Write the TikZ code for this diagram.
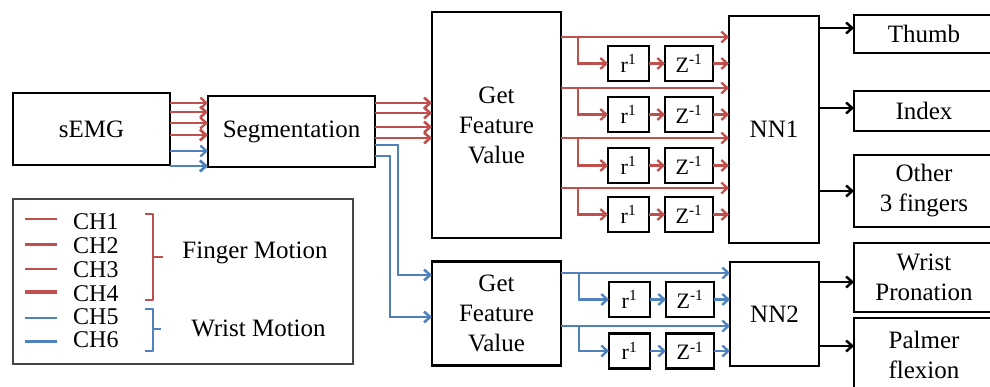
\documentclass[tikz,border=0pt]{standalone}
\usepackage{fontspec}
\setmainfont{Liberation Serif}
\usetikzlibrary{arrows.meta}
\definecolor{cred}{RGB}{192,80,77}
\definecolor{cblue}{RGB}{79,129,189}
\definecolor{cgray}{RGB}{70,70,70}
\tikzset{
  box/.style={draw=black, line width=2.8pt, inner sep=0pt, outer sep=0pt, align=center,
    font=\fontsize{25}{30}\selectfont},
  small/.style={box, minimum width=41pt, minimum height=35pt, font=\fontsize{22}{24}\selectfont},
  zbox/.style={box, minimum width=48pt, minimum height=35pt, font=\fontsize{22}{24}\selectfont},
  arr/.style={line width=2.3pt, -{Straight Barb[length=6pt,width=11pt]}},
  rarr/.style={arr, draw=cred},
  barr/.style={arr, draw=cblue},
  karr/.style={arr, draw=black, line width=2.5pt},
  lbl/.style={inner sep=0pt, font=\fontsize{24}{28}\selectfont},
  brace/.style={line width=2.6pt, line join=round},
}
\begin{document}
\begin{tikzpicture}[x=1pt,y=-1pt]
\useasboundingbox (0,0) rectangle (990,386);
\clip (0,0) rectangle (990,386);
\fill[white] (0,0) rectangle (990,386);

% main boxes
\node[box, minimum width=157pt, minimum height=72pt] (semg) at (91.5,129) {sEMG};
\node[box, minimum width=167pt, minimum height=71pt] (seg) at (291.5,131.5) {Segmentation};
\node[box, minimum width=129pt, minimum height=226pt] (gfv1) at (496.5,125) {Get\\Feature\\Value};
\node[box, minimum width=129pt, minimum height=104pt] (gfv2) at (496.5,313.5) {Get\\Feature\\Value};
\node[box, minimum width=90pt, minimum height=227pt] (nn1) at (774,129.5) {NN1};
\node[box, minimum width=89pt, minimum height=104pt] (nn2) at (774.5,314) {NN2};

% delay boxes
\foreach \i/\y in {1/63.5,2/114.5,3/165.5,4/214.5}{
  \node[small] (rA\i) at (628.5,\y) {r\textsuperscript{1}};
  \node[zbox] (zA\i) at (689,\y) {Z\textsuperscript{-1}};
}
\foreach \i/\y in {1/299.5,2/351}{
  \node[small] (rB\i) at (629.5,\y) {r\textsuperscript{1}};
  \node[zbox] (zB\i) at (690,\y) {Z\textsuperscript{-1}};
}

% output boxes
\node[box, minimum width=140pt, minimum height=38pt] (thumb) at (924,34) {Thumb};
\node[box, minimum width=140pt, minimum height=40pt] (index) at (924,111) {Index};
\node[box, minimum width=140pt, minimum height=72pt] (other) at (924,191) {Other\\3 fingers};
\node[box, minimum width=140pt, minimum height=69pt] (wrist) at (924,277.5) {Wrist\\Pronation};
\node[box, minimum width=140pt, minimum height=74pt] (palm) at (924,355) {Palmer\\flexion};

% sEMG -> Segmentation
\foreach \y/\w in {103/2.2,112/2.6,123/2.4,135/2.8}{
  \draw[rarr, line width=\w pt] (semg.east |- 0,\y) -- (seg.west |- 0,\y);
}
\foreach \y/\w in {151/2.2,166/2.8}{
  \draw[barr, line width=\w pt] (semg.east |- 0,\y) -- (seg.west |- 0,\y);
}

% Segmentation -> Get Feature Value 1
\foreach \y in {103,113,127,138}{
  \draw[rarr, line width=2.6pt] (seg.east |- 0,\y) -- (gfv1.west |- 0,\y);
}
% Segmentation -> Get Feature Value 2
\coordinate (c1) at (398,145);
\coordinate (c2) at (390,156);
\draw[barr, line width=2.6pt] (seg.east |- c1) -- (c1) |- (gfv2.west |- 0,275);
\draw[barr, line width=2.6pt] (seg.east |- c2) -- (c2) |- (gfv2.west |- 0,317);

% GFV1 -> NN1 with delay branches
\foreach \i/\y in {1/37,2/88,3/138,4/188}{
  \draw[rarr] (gfv1.east |- 0,\y) -- (nn1.west |- 0,\y);
  \coordinate (bA\i) at (578,\y);
  \draw[rarr] (bA\i) |- (rA\i.west);
  \draw[rarr] (rA\i) -- (zA\i);
  \draw[rarr] (zA\i) -- (nn1.west |- zA\i);
}
% GFV2 -> NN2 with delay branches
\foreach \i/\y in {1/273,2/326}{
  \draw[barr] (gfv2.east |- 0,\y) -- (nn2.west |- 0,\y);
  \coordinate (bB\i) at (579,\y);
  \draw[barr] (bB\i) |- (rB\i.west);
  \draw[barr] (rB\i) -- (zB\i);
  \draw[barr] (zB\i) -- (nn2.west |- zB\i);
}

% NN outputs
\draw[karr] (nn1.east |- 0,28) -- (thumb.west |- 0,28);
\draw[karr] (nn1.east |- 0,108) -- (index.west |- 0,108);
\draw[karr] (nn1.east |- 0,191) -- (other.west |- 0,191);
\draw[karr] (nn2.east |- 0,282) -- (wrist.west |- 0,282);
\draw[karr] (nn2.east |- 0,346) -- (palm.west |- 0,346);

% legend
\draw[cgray, line width=2.4pt] (13,199) rectangle (353,364);
\foreach \n/\y/\c/\w/\ty in {1/219/cred/2.0/222,2/244/cred/3.0/246,3/269/cred/2.2/270,4/292/cred/3.2/294,5/318/cblue/2.0/317,6/341/cblue/3.0/340}{
  \draw[\c, line width=\w pt] (25,\y) -- (57,\y);
  \node[lbl, anchor=west] (ch\n) at (73,\ty) {CH\n};
}
\draw[cred, brace] (145,214) -- (153,214) -- (153,300) -- (145,300);
\draw[cred, brace] (153,257) -- (163,257);
\draw[cblue, brace] (145,309) -- (153,309) -- (153,351) -- (145,351);
\draw[cblue, brace] (153,329) -- (161,329);
\node[lbl, font=\fontsize{25}{30}\selectfont] (fm) at (255,253) {Finger Motion};
\node[lbl, font=\fontsize{25}{30}\selectfont] (wm) at (258.5,328) {Wrist Motion};
\end{tikzpicture}
\end{document}
